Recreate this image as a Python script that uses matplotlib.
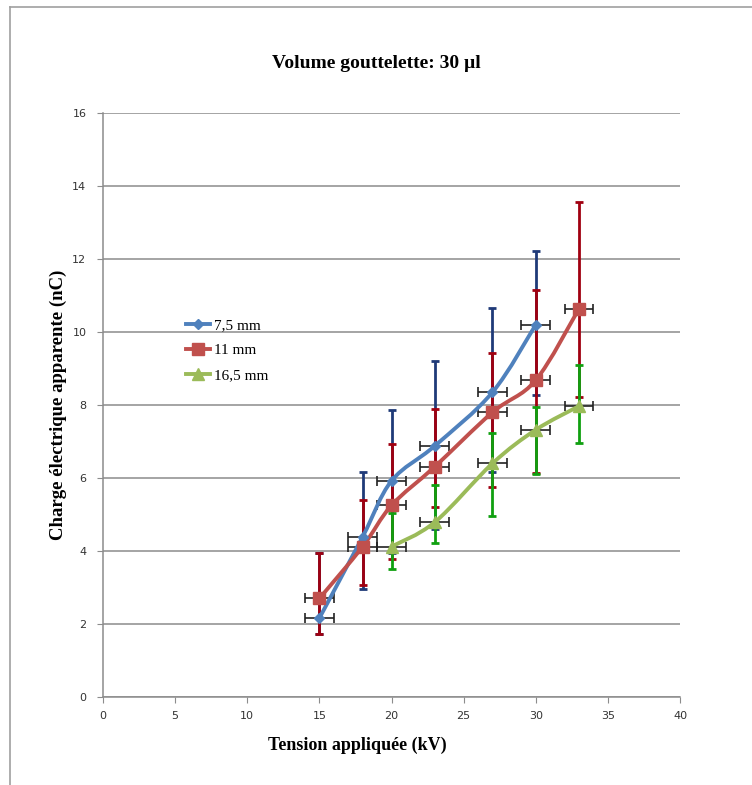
import matplotlib.pyplot as plt
from matplotlib.path import Path
from matplotlib.patches import PathPatch
from matplotlib.lines import Line2D
import numpy as np

# tension (kV)
x_75 = [15, 18, 20, 23, 27, 30]
x_11 = [15, 18, 20, 23, 27, 30, 33]
x_165 = [20, 23, 27, 30, 33]

# charge (nC)
q_75 = [2.16, 4.39, 5.92, 6.88, 8.35, 10.20]
q_11 = [2.70, 4.12, 5.25, 6.31, 7.80, 8.68, 10.64]
q_165 = [4.12, 4.79, 6.40, 7.32, 7.97]

# bornes des barres d'erreur (bas / haut)
lo_75 = [1.72, 2.95, 3.95, 4.59, 6.17, 8.27]
hi_75 = [3.95, 6.17, 7.86, 9.21, 10.67, 12.23]
lo_11 = [1.72, 3.06, 3.77, 5.20, 5.76, 6.15, 8.23]
hi_11 = [3.95, 5.41, 6.93, 7.88, 9.43, 11.15, 13.55]
lo_165 = [3.51, 4.21, 4.96, 6.11, 6.96]
hi_165 = [5.03, 5.81, 7.22, 7.95, 9.10]

xerr = 1.0

labels = ["7,5 mm", "11 mm", "16,5 mm"]
line_cols = ["#4F81BD", "#C0504D", "#9BBB59"]
bar_cols = ["#1F3A78", "#A00010", "#10A010"]
markers = ["D", "s", "^"]
msizes = [5, 8, 8]


def smooth_path(xs, ys):
    # courbe lissee facon Excel (Bezier cubique)
    pts = np.column_stack([xs, ys]).astype(float)
    n = len(pts)
    verts = [pts[0]]
    codes = [Path.MOVETO]
    for i in range(n - 1):
        p0 = pts[i - 1] if i > 0 else pts[i]
        p1 = pts[i]
        p2 = pts[i + 1]
        p3 = pts[i + 2] if i + 2 < n else pts[i + 1]
        c1 = p1 + (p2 - p0) / 6.0
        c2 = p2 - (p3 - p1) / 6.0
        verts += [c1, c2, p2]
        codes += [Path.CURVE4] * 3
    return Path(verts, codes)


fig = plt.figure(figsize=(7.52, 7.85), dpi=100)
ax = fig.add_axes([103 / 752, 88 / 785, 577 / 752, 584 / 785])

# cadre autour du graphique
fig.add_artist(Line2D([10 / 752, 10 / 752], [0, 1 - 7 / 785], color="#A0A0A0", lw=1.2, transform=fig.transFigure))
fig.add_artist(Line2D([10 / 752, 1], [1 - 7 / 785, 1 - 7 / 785], color="#A0A0A0", lw=1.2, transform=fig.transFigure))

series = [(x_75, q_75, lo_75, hi_75), (x_11, q_11, lo_11, hi_11), (x_165, q_165, lo_165, hi_165)]

handles = []
for k, (xs, ys, lo, hi) in enumerate(series):
    xs = np.array(xs)
    ys = np.array(ys)
    yerr = [ys - np.array(lo), np.array(hi) - ys]
    ax.errorbar(xs, ys, yerr=yerr, fmt="none", ecolor=bar_cols[k], elinewidth=2,
                capsize=3, capthick=2, zorder=2 + k * 0.1)

for k, (xs, ys, lo, hi) in enumerate(series):
    ax.errorbar(xs, ys, xerr=xerr, fmt="none", ecolor="#222222", elinewidth=1.2,
                capsize=3.5, capthick=1.2, zorder=2.5)

for k, (xs, ys, lo, hi) in enumerate(series):
    patch = PathPatch(smooth_path(xs, ys), facecolor="none", edgecolor=line_cols[k],
                      lw=2.8, zorder=3 + k * 0.1, capstyle="round")
    ax.add_patch(patch)
    ax.plot(xs, ys, linestyle="none", marker=markers[k], ms=msizes[k],
            color=line_cols[k], zorder=4 + k * 0.1)
    handles.append(Line2D([], [], color=line_cols[k], lw=2.8, marker=markers[k],
                          ms=msizes[k]))

ax.set_xlim(0, 40)
ax.set_ylim(0, 16)
ax.set_xticks(np.arange(0, 41, 5))
ax.set_yticks(np.arange(0, 17, 2))
ax.yaxis.grid(True, color="#8C8C8C", lw=1.1)
ax.set_axisbelow(True)
for s in ["top", "right"]:
    ax.spines[s].set_visible(False)
for s in ["left", "bottom"]:
    ax.spines[s].set_color("#8C8C8C")
    ax.spines[s].set_linewidth(1.1)
ax.tick_params(axis="both", direction="out", length=4, color="#8C8C8C",
               labelsize=8, labelcolor="#333333")
ax.tick_params(axis="y", pad=8)
ax.tick_params(axis="x", pad=6)

ax.set_xlabel("Tension appliquée (kV)", fontsize=13, fontweight="bold",
              family="Liberation Serif", labelpad=11)
ax.xaxis.set_label_coords(0.44, -0.068)
ax.set_ylabel("Charge électrique apparente (nC)", fontsize=13.5, fontweight="bold",
              family="Liberation Serif", labelpad=4)
fig.text(0.5, 1 - 63 / 785, "Volume gouttelette: 30 µl", ha="center", va="center",
         fontsize=14, fontweight="bold", family="Liberation Serif")

ax.legend(handles, labels, loc="upper left", bbox_to_anchor=(0.12, 0.672), frameon=False,
          prop={"family": "Liberation Serif", "size": 11}, handlelength=1.6,
          handletextpad=0.25, labelspacing=0.75)

plt.savefig("out.png", dpi=100)
